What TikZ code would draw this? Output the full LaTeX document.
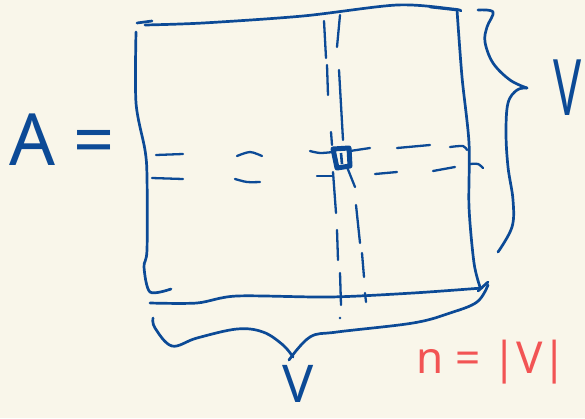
\documentclass[tikz,border=0pt]{standalone}
\usepackage{fontspec}
\setmainfont{Noto Sans}
\definecolor{pen}{RGB}{12,74,150}
\definecolor{redpen}{RGB}{242,84,84}
\definecolor{paper}{RGB}{249,246,234}
\begin{document}
\begin{tikzpicture}[x=1pt,y=-1pt,
  ink/.style={draw=pen,line width=2.7pt,line cap=round,line join=round},
  thinink/.style={draw=pen,line width=2.3pt,line cap=round,line join=round},
  bigtext/.style={text=pen,inner sep=0pt},
  redtext/.style={text=redpen,inner sep=0pt}]
\path[fill=paper] (0,0) rectangle (585,418);
\useasboundingbox (0,0) rectangle (585,418);

% matrix outline
\draw[ink] plot[smooth,tension=0.5] coordinates {(145,25) (203,23) (303,16) (397,5) (453,9) (461,11)};
\draw[ink] (137,23) -- (152,21);
\draw[ink] (430,7) -- (457,10);
\draw[ink] plot[smooth,tension=0.5] coordinates {(136,32) (136,103) (145,150) (147,177) (147,250) (144,267) (150,292) (171,289)};
\draw[ink] plot[smooth,tension=0.5] coordinates {(457,10) (462,77) (469,143) (469,207) (474,263) (480,287)};
\draw[ink] plot[smooth,tension=0.5] coordinates {(150,303) (197,303) (237,296) (330,297) (413,293) (482,288)};
\draw[ink] (478,291) -- (488,282);

% dashed row lines
\draw[thinink] (156,155) -- (183,154);
\draw[thinink] plot[smooth] coordinates {(237,156) (250,152) (262,156)};
\draw[thinink] plot[smooth] coordinates {(310,151) (320,153) (333,152)};
\draw[thinink] (350,151) -- (370,148);
\draw[thinink] (397,148) -- (430,145);
\draw[thinink] plot[smooth] coordinates {(450,147) (463,146) (467,150)};
\draw[thinink] (152,178) -- (183,179);
\draw[thinink] plot[smooth] coordinates {(235,179) (247,182) (260,182)};
\draw[thinink] (317,176) -- (333,176);
\draw[thinink] (375,174) -- (397,172);
\draw[thinink] (433,171) -- (455,167);
\draw[thinink] plot[smooth] coordinates {(470,164) (478,164) (483,168)};

% dashed column lines
\draw[thinink] (324,21) -- (326,58);
\draw[thinink] (327,65) -- (328,95);
\draw[thinink] (331,132) -- (332,145);
\draw[thinink] (333,172) -- (336,213);
\draw[thinink] (337,230) -- (338,260);
\draw[thinink] (340,273) -- (341,305);
\fill[pen] (340,318) circle (1.3pt);
\draw[thinink] (340,15) -- (337,47);
\draw[thinink] (339,70) -- (343,140);
\draw[thinink] (347,167) -- (355,187);
\draw[thinink] (356,205) -- (360,243);
\draw[thinink] (362,253) -- (364,277);
\draw[thinink] (365,293) -- (366,302);

% the entry
\draw[draw=pen,line width=5pt,line join=round] (333,149) -- (349,148) -- (350,166) -- (337,168) -- cycle;
\draw[draw=pen,line width=2.6pt] (341,153) -- (342,164);

% right brace
\draw[ink] plot[smooth,tension=0.6] coordinates {(478,10) (493,12) (487,27) (485,42) (493,63) (510,80) (527,88)};
\draw[ink] plot[smooth,tension=0.6] coordinates {(527,88) (517,90) (508,103) (506,133) (508,167) (513,200) (512,227) (498,252)};

% bottom brace
\draw[ink] plot[smooth,tension=0.6] coordinates {(153,318) (155,328) (172,346) (197,338) (237,329) (263,332) (283,345) (293,357)};
\draw[ink] plot[smooth,tension=0.6] coordinates {(289,360) (310,337) (337,332) (413,323) (450,313) (477,302) (488,285)};

% labels
\node[bigtext,font=\fontsize{72}{72}\selectfont] (A) at (62,140) {A =};
\node[bigtext,font=\fontsize{78}{78}\selectfont] (Vr) at (568,88) {\scalebox{0.6}[1]{V}};
\node[bigtext,font=\fontsize{52}{52}\selectfont] (Vb) at (298,384) {V};
\node[redtext,font=\fontsize{44}{44}\selectfont] (n) at (492,362) {n = |V|};
\end{tikzpicture}
\end{document}
